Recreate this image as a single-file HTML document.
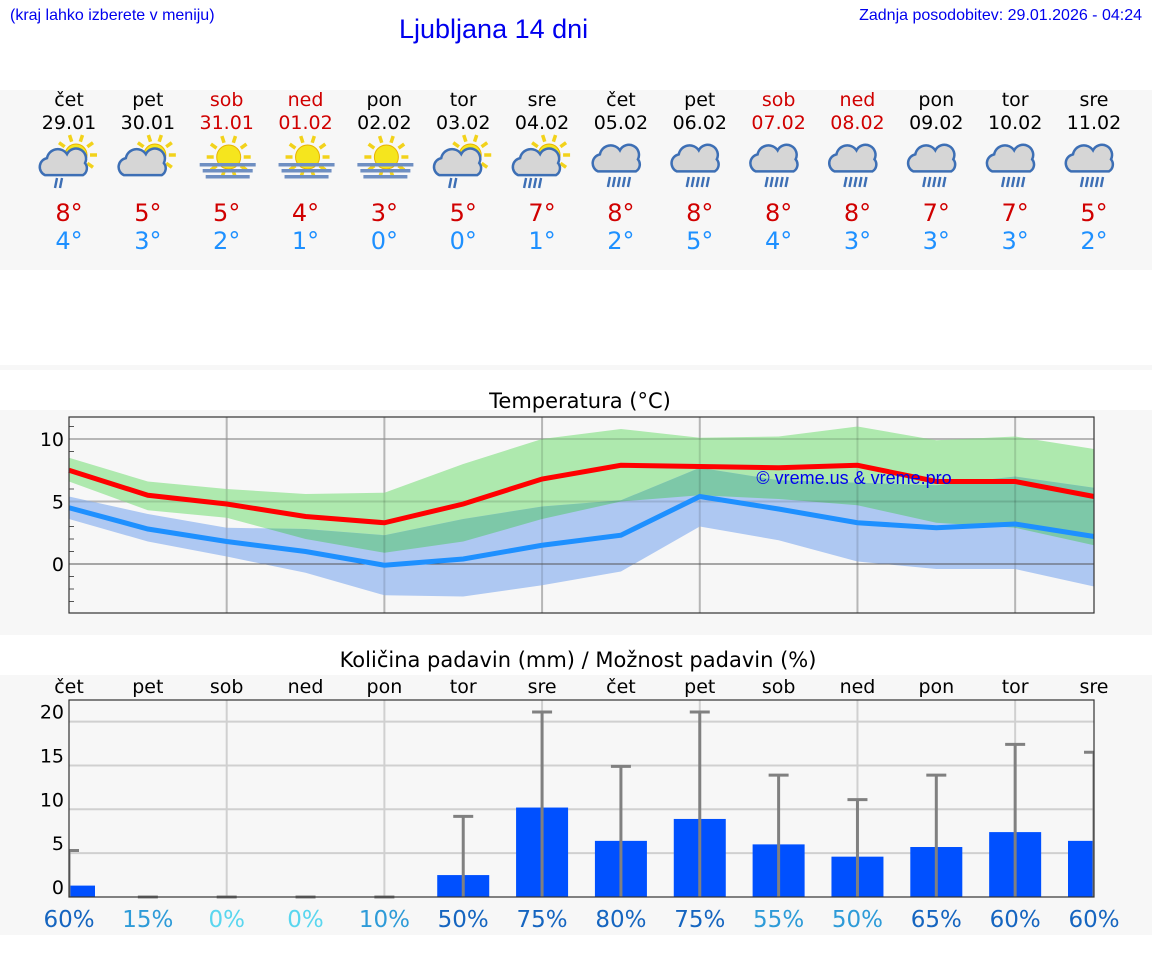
<!DOCTYPE html>
<html><head><meta charset="utf-8">
<style>
body{margin:0;width:1152px;height:975px;background:#fff;font-family:"DejaVu Sans","Liberation Sans",sans-serif;position:relative;overflow:hidden}
.abs{position:absolute}
.panel{position:absolute;left:0;width:1152px;background:#f7f7f7}
.day{position:absolute;width:80px;text-align:center;font-size:19px;line-height:23px}
.red{color:#d00000}
</style></head><body>
<div class="abs" style="left:10px;top:7px;font-size:16px;color:#0000ee;font-family:'Liberation Sans',sans-serif">(kraj lahko izberete v meniju)</div>
<div class="abs" style="left:399px;top:14px;font-size:27px;color:#0000ee;font-family:'Liberation Sans',sans-serif">Ljubljana 14 dni</div>
<div class="abs" style="right:10px;top:7px;font-size:16px;color:#0000ee;font-family:'Liberation Sans',sans-serif">Zadnja posodobitev: 29.01.2026 - 04:24</div>
<div class="panel" style="top:90px;height:180px"></div>
<div class="panel" style="top:365px;height:5px"></div>
<div class="panel" style="top:410px;height:225px"></div>
<div class="panel" style="top:675px;height:260px"></div>
<div id="days"></div>
<svg id="chart" class="abs" style="left:0;top:0" width="1152" height="975"></svg>
<script>
const dayNames=["čet","pet","sob","ned","pon","tor","sre","čet","pet","sob","ned","pon","tor","sre"];
const dates=["29.01","30.01","31.01","01.02","02.02","03.02","04.02","05.02","06.02","07.02","08.02","09.02","10.02","11.02"];
const weekend=[0,0,1,1,0,0,0,0,0,1,1,0,0,0];
const hiT=[8,5,5,4,3,5,7,8,8,8,8,7,7,5];
const loT=[4,3,2,1,0,0,1,2,5,4,3,3,3,2];
const icons=["scr","sc","sf","sf","sf","scr","scr2","cr","cr","cr","cr","cr","cr","cr"];
const maxLine=[7.5,5.5,4.8,3.8,3.3,4.8,6.8,7.9,7.8,7.7,7.9,6.6,6.6,5.4];
const maxUp=[8.5,6.6,6.0,5.6,5.7,8.0,10.0,10.8,10.1,10.2,11.0,9.9,10.2,9.2];
const maxLo=[6.6,4.3,3.7,2.0,0.9,1.8,3.6,5.0,5.5,5.2,4.7,3.3,2.9,1.5];
const minLine=[4.5,2.8,1.8,1.0,-0.1,0.4,1.5,2.3,5.4,4.4,3.3,2.9,3.2,2.2];
const minUp=[5.4,4.0,2.9,2.8,2.3,3.6,4.6,5.1,7.7,6.7,6.5,6.3,7.0,6.1];
const minLo=[3.6,1.8,0.6,-0.7,-2.5,-2.6,-1.7,-0.6,3.0,1.9,0.2,-0.4,-0.4,-1.8];
const precip=[1.3,0,0,0,0,2.5,10.2,6.4,8.9,6.0,4.6,5.7,7.4,6.4];
const precipMax=[5.3,0,0,0,0,9.2,21.1,14.9,21.1,13.9,11.1,13.9,17.4,16.5];
const chance=[60,15,0,0,10,50,75,80,75,55,50,65,60,60];
const tTicks=[0,5,10];
const pTicks=[0,5,10,15,20];

const NS="http://www.w3.org/2000/svg";
const svg=document.getElementById('chart');
function mk(tag,attrs,parent){const e=document.createElementNS(NS,tag);for(const k in attrs)e.setAttribute(k,attrs[k]);(parent||svg).appendChild(e);return e;}
const X0=69,X1=1094;
const xs=i=>X0+i*(X1-X0)/13;
const ty=v=>564-v*12.5;
const py=v=>897-v*8.77;

const dd=document.getElementById('days');
for(let i=0;i<14;i++){
  const d=document.createElement('div');
  d.className='day';
  
  
  d.style.left=(xs(i)-40)+'px';d.style.top='89px';
  d.innerHTML=`<div class="${weekend[i]?'red':''}">${dayNames[i]}<br>${dates[i]}</div>`;
  dd.appendChild(d);
  const t=document.createElement('div');
  t.className='day';
  
  
  t.style.left=(xs(i)-40)+'px';t.style.top='199px';t.style.fontSize='24px';t.style.lineHeight='28px';
  t.innerHTML=`<div style="color:#d00000">${hiT[i]}°</div><div style="color:#1e90ff">${loT[i]}°</div>`;
  dd.appendChild(t);
}
function sun(g,cx,cy,r){
  for(let a=0;a<360;a+=36){const rad=a*Math.PI/180;mk('line',{x1:cx+Math.cos(rad)*(r+3),y1:cy+Math.sin(rad)*(r+3),x2:cx+Math.cos(rad)*(r+10),y2:cy+Math.sin(rad)*(r+10),stroke:'#f2d21b','stroke-width':3.5},g);}
  mk('circle',{cx:cx,cy:cy,r:r,fill:'#f5e51e',stroke:'#e8b400','stroke-width':1},g);
}
function cloud(g,cx,cy,s){
  mk('path',{d:`M${cx-20*s},${cy+9*s} a9,9 0 0 1 2,-17 a11,11 0 0 1 20,-4 a10,10 0 0 1 18,9 a8,8 0 0 1 -2,12 z`,fill:'#d6d6d6',stroke:'#3d6fb5','stroke-width':2.5},g);
}
function rain(g,cx,cy,n){for(let k=0;k<n;k++){mk('line',{x1:cx+k*5+2,y1:cy,x2:cx+k*5,y2:cy+10,stroke:'#3d6fb5','stroke-width':2.4},g);}}
for(let i=0;i<14;i++){
  const g=mk('g',{});
  
  
  const cx=xs(i),cy=163,k=icons[i];
  if(k==='sf'){sun(g,cx+2,cy-6,12);for(let j=0;j<3;j++)mk('rect',{x:cx-27+j*3,y:cy+j*6,width:56-j*6,height:3.5,fill:'#6f8fc2'},g);}
  else if(k==='sc'||k==='scr'||k==='scr2'){sun(g,cx+7,cy-8,11);cloud(g,cx-6,cy+4,0.9);if(k==='scr')rain(g,cx-14,cy+15,2);if(k==='scr2')rain(g,cx-18,cy+15,4);}
  else{cloud(g,cx,cy-2,1.15);rain(g,cx-13,cy+14,5);}
}

// Temperature chart
mk('text',{x:580,y:408,'text-anchor':'middle','font-size':21,fill:'#000'}).textContent='Temperatura (°C)';
mk('rect',{x:X0,y:417,width:X1-X0,height:196,fill:'#f7f7f7'});
for(let i=2;i<13;i+=2){const l=mk('line',{x1:xs(i),y1:417,x2:xs(i),y2:613,stroke:'#d0d0d0','stroke-width':2});}
for(let v=-3;v<=11;v++){if(v%5)mk('line',{x1:X0,y1:ty(v),x2:X0+5,y2:ty(v),stroke:'#555'});}
tTicks.forEach(v=>{mk('line',{x1:X0,y1:ty(v),x2:X1,y2:ty(v),stroke:v===0?'#555':'#d0d0d0','stroke-width':v===0?1:2});
  const t=mk('text',{x:64,y:ty(v)+7,'text-anchor':'end','font-size':19});t.textContent=v;});
function bandPath(up,lo){let d='';up.forEach((v,i)=>d+=(i?'L':'M')+xs(i)+','+ty(v));for(let i=lo.length-1;i>=0;i--)d+='L'+xs(i)+','+ty(lo[i]);return d+'Z';}
const gp=mk('path',{d:bandPath(maxUp,maxLo),fill:'#aee9ae'});
const bp=mk('path',{d:bandPath(minUp,minLo),fill:'#aec8f2'});
const cp=mk('clipPath',{id:'gclip'});mk('path',{d:bandPath(maxUp,maxLo)},cp);
const ov=mk('path',{d:bandPath(minUp,minLo),fill:'#7dc8a8','clip-path':'url(#gclip)'});
for(let i=2;i<13;i+=2)mk('line',{x1:xs(i),y1:417,x2:xs(i),y2:613,stroke:'rgba(0,0,0,0.12)','stroke-width':2});
tTicks.forEach(v=>{if(v)mk('line',{x1:X0,y1:ty(v),x2:X1,y2:ty(v),stroke:'rgba(0,0,0,0.12)','stroke-width':2});});
mk('line',{x1:X0,y1:ty(0),x2:X1,y2:ty(0),stroke:'#555'});
function line(arr,col,name){const p=mk('polyline',{points:arr.map((v,i)=>xs(i)+','+ty(v)).join(' '),fill:'none',stroke:col,'stroke-width':5});}
line(minLine,'#1e90ff','min-temp-line');
line(maxLine,'#ff0000','max-temp-line');
mk('text',{x:854,y:484,'text-anchor':'middle','font-size':18,fill:'#0000ee','font-family':'Liberation Sans'}).textContent='© vreme.us & vreme.pro';
mk('rect',{x:X0,y:417,width:X1-X0,height:196,fill:'none',stroke:'#333','stroke-width':1.2});

// Precip chart
mk('text',{x:578,y:667,'text-anchor':'middle','font-size':21}).textContent='Količina padavin (mm) / Možnost padavin (%)';
for(let i=0;i<14;i++){const t=mk('text',{x:xs(i),y:693,'text-anchor':'middle','font-size':19});t.textContent=dayNames[i];}
mk('rect',{x:X0,y:700,width:X1-X0,height:197,fill:'#f7f7f7'});
for(let i=2;i<13;i+=2)mk('line',{x1:xs(i),y1:700,x2:xs(i),y2:897,stroke:'#d0d0d0','stroke-width':2});
pTicks.forEach(v=>{if(v)mk('line',{x1:X0,y1:py(v),x2:X1,y2:py(v),stroke:'#d0d0d0','stroke-width':2});
  const t=mk('text',{x:64,y:py(v)-3,'text-anchor':'end','font-size':19});t.textContent=v;});
const clip=mk('clipPath',{id:'pc'});mk('rect',{x:X0,y:690,width:X1-X0,height:210},clip);
const pg=mk('g',{'clip-path':'url(#pc)'});
for(let i=0;i<14;i++){
  const b=mk('rect',{x:xs(i)-26,y:py(precip[i]),width:52,height:897-py(precip[i]),fill:'#0050ff'},pg);
  
  const e=mk('line',{x1:xs(i),y1:py(precipMax[i]),x2:xs(i),y2:897,stroke:'#808080','stroke-width':3},pg);
  
  mk('line',{x1:xs(i)-10,y1:py(precipMax[i]),x2:xs(i)+10,y2:py(precipMax[i]),stroke:'#808080','stroke-width':3},pg);
}
mk('rect',{x:X0,y:700,width:X1-X0,height:197,fill:'none',stroke:'#333','stroke-width':1.2});
for(let i=0;i<14;i++){
  let col=chance[i]>=60||chance[i]===50&&i===5?'#1565c0':(chance[i]>=10?'#2e9bd8':'#5ad6ef');
  if(chance[i]===75)col='#1565c0';
  const t=mk('text',{x:xs(i),y:927,'text-anchor':'middle','font-size':23,fill:col});
  t.textContent=chance[i]+'%';
  
}
</script>
</body></html>
